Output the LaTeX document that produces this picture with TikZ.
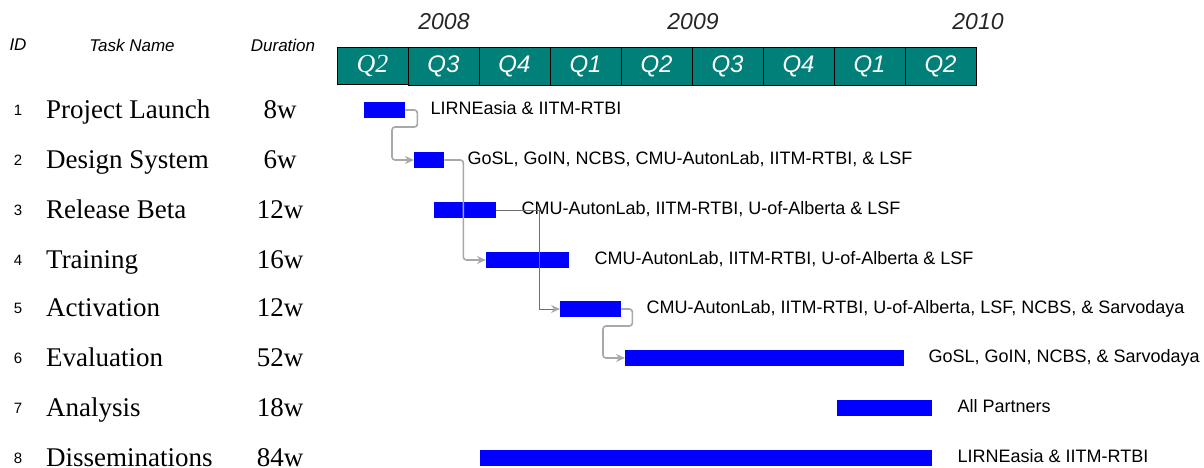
\documentclass[tikz,border=0pt]{standalone}
\usepackage{fontspec}
\setmainfont{Liberation Serif}
\setsansfont{Liberation Sans}
\usepackage{xcolor}
\usepackage{tikz}
\usetikzlibrary{positioning,arrows.meta}
\definecolor{ganttteal}{RGB}{0,128,120}
\definecolor{ganttblue}{RGB}{0,0,255}
\definecolor{linkgray}{RGB}{168,168,168}
\definecolor{linkdark}{RGB}{110,110,110}

\begin{document}
\begin{tikzpicture}[x=1pt, y=-1pt,
  quarter/.style={draw=black, fill=ganttteal, text=white, minimum width=71pt, minimum height=38pt, inner sep=0pt, font=\sffamily\itshape\fontsize{24}{24}\selectfont},
  year/.style={inner sep=0pt, text=black!85, font=\sffamily\itshape\fontsize{23}{23}\selectfont},
  colhead/.style={inner sep=0pt, font=\sffamily\itshape\fontsize{17}{17}\selectfont},
  idnum/.style={inner sep=0pt, text height=11pt, text depth=0pt, font=\sffamily\fontsize{15}{15}\selectfont},
  task/.style={anchor=west, inner sep=0pt, text height=20pt, text depth=4pt, font=\rmfamily\fontsize{27}{27}\selectfont},
  dur/.style={inner sep=0pt, text height=20pt, text depth=4pt, font=\rmfamily\fontsize{27}{27}\selectfont},
  bar/.style={fill=ganttblue, minimum height=16pt, inner sep=0pt, anchor=west},
  partners/.style={inner sep=0pt, anchor=west, text height=13pt, text depth=4pt, font=\sffamily\fontsize{18}{18}\selectfont},
  link/.style={draw=linkgray, line width=1.6pt, rounded corners=3pt, -{Stealth[length=9pt, width=8pt]}},
  linkthin/.style={draw=linkdark, line width=1pt, -{Stealth[length=9pt, width=8pt, color=linkgray]}}
]
\useasboundingbox (0,0) rectangle (1204,467);

% header
\node[year] (y1) at (444,22) {2008};
\node[year] (y2) at (693,22) {2009};
\node[year] (y3) at (978,22) {2010};
\node[colhead] (hid) at (18,45) {ID};
\node[colhead] (hname) at (132,45) {Task Name};
\node[colhead] (hdur) at (283,45) {Duration};

\node[quarter, font=\rmfamily\itshape\fontsize{26}{26}\selectfont, minimum height=37pt] (q1) at (372.5,65.5) {Q2};
\foreach \q [count=\i from 2] in {Q3,Q4,Q1,Q2,Q3,Q4,Q1,Q2}
  \node[quarter] (q\i) at ({337+71*\i-35.5},66) {\q};

% task rows
\foreach \y/\name/\dur [count=\i] in {110/Project Launch/8w, 160/Design System/6w, 210/Release Beta/12w, 260/Training/16w, 308/Activation/12w, 358/Evaluation/52w, 408/Analysis/18w, 458/Disseminations/84w} {
  \node[idnum] (id\i) at (18,\y) {\i};
  \node[task] (t\i) at (46,\y) {\name};
  \node[dur] (d\i) at (280,\y) {\dur};
}

% bars
\node[bar, minimum width=41pt] (b1) at (364,110) {};
\node[bar, minimum width=30pt] (b2) at (414,160) {};
\node[bar, minimum width=62pt] (b3) at (434,210) {};
\node[bar, minimum width=83pt] (b4) at (486,260) {};
\node[bar, minimum width=61pt] (b5) at (560,309) {};
\node[bar, minimum width=279pt] (b6) at (625,358) {};
\node[bar, minimum width=95pt] (b7) at (837,408) {};
\node[bar, minimum width=452pt] (b8) at (480,458) {};

\node[partners, right=25pt of b1] (p1) {LIRNEasia \& IITM-RTBI};
\node[partners, right=23pt of b2] (p2) {GoSL, GoIN, NCBS, CMU-AutonLab, IITM-RTBI, \& LSF};
\node[partners, right=25pt of b3] (p3) {CMU-AutonLab, IITM-RTBI, U-of-Alberta \& LSF};
\node[partners, right=25pt of b4] (p4) {CMU-AutonLab, IITM-RTBI, U-of-Alberta \& LSF};
\node[partners, right=25pt of b5] (p5) {CMU-AutonLab, IITM-RTBI, U-of-Alberta, LSF, NCBS, \& Sarvodaya};
\node[partners, right=24pt of b6] (p6) {GoSL, GoIN, NCBS, \& Sarvodaya};
\node[partners, right=25pt of b7] (p7) {All Partners};
\node[partners, right=25pt of b8] (p8) {LIRNEasia \& IITM-RTBI};

% dependencies
\draw[link] (b1.east) -- ++(12,0) -- ++(0,17) -| ([xshift=-22pt]b2.west) -- (b2.west);
\draw[link] (b2.east) -- ++(19,0) |- (b4.west);
\draw[linkthin] (b3.east) -- ++(43,0) |- (b5.west);
\draw[link] (b5.east) -- ++(11,0) -- ++(0,17) -| ([xshift=-22pt]b6.west) -- (b6.west);
\end{tikzpicture}
\end{document}
